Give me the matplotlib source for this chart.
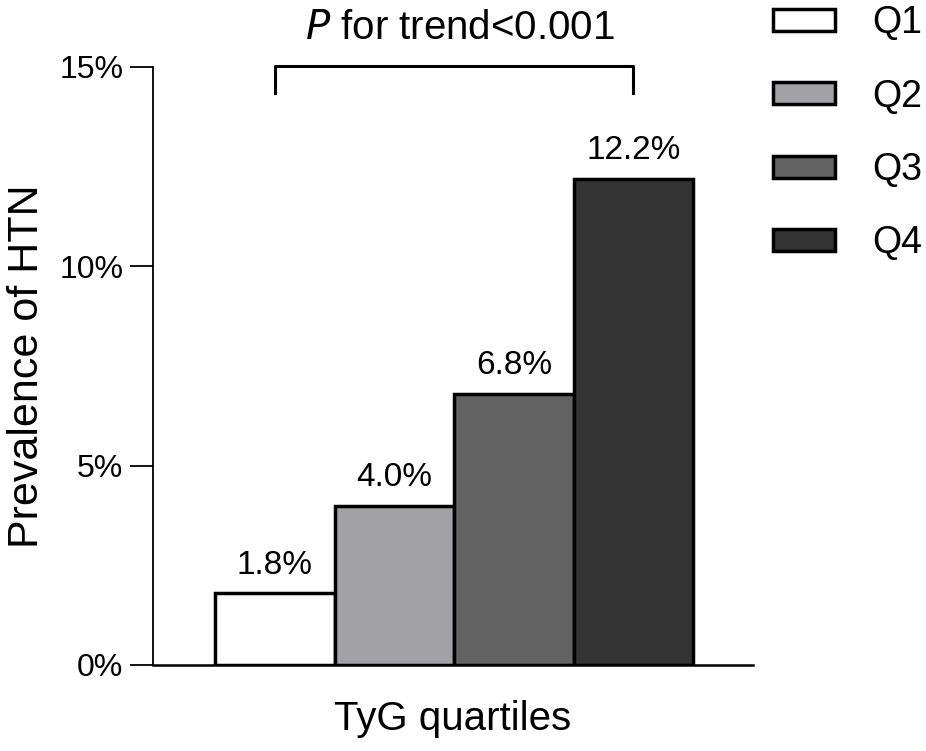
import matplotlib
matplotlib.use("Agg")
import matplotlib.pyplot as plt
from matplotlib.patches import Patch

plt.rcParams['font.family'] = ['Liberation Sans', 'DejaVu Sans']

groups = ["Q1", "Q2", "Q3", "Q4"]
prevalence = [1.8, 4.0, 6.8, 12.2]
labels = ["1.8%", "4.0%", "6.8%", "12.2%"]
colors = ["#ffffff", "#a2a1a5", "#626262", "#333333"]
yticks = [0, 5, 10, 15]
ytick_labels = ["0%", "5%", "10%", "15%"]

fig = plt.figure(figsize=(9.26, 7.51), dpi=100)
ax = fig.add_axes([153 / 926, 1 - 665 / 751, 600 / 926, 598 / 751])

x = range(len(groups))
bars = ax.bar(x, prevalence, width=1.0, color=colors, edgecolor="black", linewidth=2.5)
for b, t in zip(bars, labels):
    ax.annotate(t, (b.get_x() + b.get_width() / 2, b.get_height()),
                xytext=(0, 14), textcoords="offset points",
                ha="center", va="baseline", fontsize=24)

ax.set_xlim(-1.02, 4.0)
ax.set_ylim(0, 15)
ax.set_yticks(yticks)
ax.set_yticklabels(ytick_labels, fontsize=23)
ax.set_xticks([])
ax.tick_params(axis="y", length=16.5, width=1.3, pad=5)
for s in ["top", "right"]:
    ax.spines[s].set_visible(False)
ax.spines["left"].set_linewidth(1.3)
ax.spines["bottom"].set_linewidth(1.8)

ax.set_ylabel("Prevalence of HTN", fontsize=31, labelpad=9)
ax.set_xlabel("TyG quartiles", fontsize=29, labelpad=25)

# trend bracket
ax.plot([0, 0, 3, 3], [14.35, 15.03, 15.03, 14.35], color="black", lw=2.2, clip_on=False)
ax.text(1.55, 15.98, r"$\mathit{P}$ for trend<0.001", ha="center", va="center", fontsize=29)

handles = [Patch(facecolor=c, edgecolor="black", linewidth=2.5) for c in colors]
fig.legend(handles, groups, loc="upper left", bbox_to_anchor=(773 / 926, 1 - 5 / 751),
           frameon=False, fontsize=27, handlelength=1.65, handleheight=0.54,
           labelspacing=1.0, handletextpad=1.0, borderpad=0, borderaxespad=0)

fig.savefig("out.png", dpi=100)
